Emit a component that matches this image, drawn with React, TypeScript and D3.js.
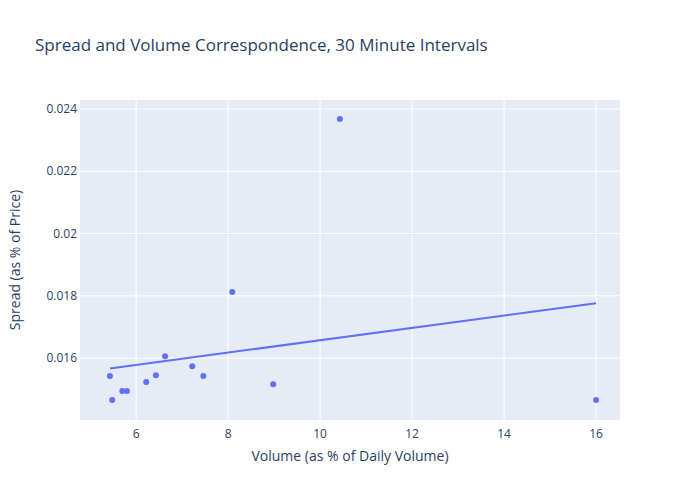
import * as React from "react"
import * as d3 from "d3"

// volume (% of daily) and spread (% of price) per 30 minute interval
const volume = [5.43, 5.48, 5.70, 5.80, 6.22, 6.43, 6.63, 7.22, 7.46, 8.09, 8.98, 10.43, 16.0]
const spread = [0.01542, 0.01465, 0.01494, 0.01494, 0.01523, 0.01545, 0.01606, 0.01574, 0.01542, 0.01812, 0.01516, 0.02368, 0.01465]
const xTicks = [6, 8, 10, 12, 14, 16]
const yTicks = [0.016, 0.018, 0.02, 0.022, 0.024]

const W = 700
const H = 500
const margin = { top: 100, right: 80, bottom: 80, left: 80 }
const font = "'Open Sans', verdana, arial, sans-serif"
const ink = "#2a3f5f"

export default function App(): JSX.Element {
    React.useEffect(() => { document.body.style.margin = "0" }, [])

    const x = d3.scaleLinear().domain([4.78, 16.52]).range([margin.left, W - margin.right])
    const y = d3.scaleLinear().domain([0.01401, 0.02429]).range([H - margin.bottom, margin.top])

    // ordinary least squares trendline
    const mx = d3.mean(volume) as number
    const my = d3.mean(spread) as number
    let sxy = 0, sxx = 0
    volume.forEach((v, i) => { sxy += (v - mx) * (spread[i] - my); sxx += (v - mx) ** 2 })
    const slope = sxy / sxx
    const icpt = my - slope * mx
    const x0 = d3.min(volume) as number
    const x1 = d3.max(volume) as number
    const line = d3.line<number>().x(d => x(d)).y(d => y(icpt + slope * d))

    return (
        <svg width={W} height={H} style={{ display: "block", fontFamily: font }}>
            <rect width={W} height={H} fill="#fff" />
            <rect x={margin.left} y={margin.top} width={W - margin.left - margin.right}
                height={H - margin.top - margin.bottom} fill="#E5ECF6" />
            {xTicks.map(t => (
                <g key={t}>
                    <line x1={x(t)} x2={x(t)} y1={margin.top} y2={H - margin.bottom} stroke="#fff" strokeWidth={1} />
                    <text x={x(t)} y={H - margin.bottom + 18} textAnchor="middle" fontSize={12} fill={ink}>{t}</text>
                </g>
            ))}
            {yTicks.map(t => (
                <g key={t}>
                    <line x1={margin.left} x2={W - margin.right} y1={y(t)} y2={y(t)} stroke="#fff" strokeWidth={1} />
                    <text x={margin.left - 3} y={y(t) + 4} textAnchor="end" fontSize={12} fill={ink}>{String(t)}</text>
                </g>
            ))}
            <path d={line([x0, x1]) as string} fill="none" stroke="#636efa" strokeWidth={2} />
            {volume.map((v, i) => (
                <circle key={i} cx={x(v)} cy={y(spread[i])} r={3} fill="#636efa" />
            ))}
            <text x={35} y={51} fontSize={17} fill={ink}>Spread and Volume Correspondence, 30 Minute Intervals</text>
            <text x={(margin.left + W - margin.right) / 2} y={461} textAnchor="middle" fontSize={14} fill={ink}>
                Volume (as % of Daily Volume)
            </text>
            <text transform={`translate(20,${(margin.top + H - margin.bottom) / 2}) rotate(-90)`}
                textAnchor="middle" fontSize={14} fill={ink}>Spread (as % of Price)</text>
        </svg>
    )
}
